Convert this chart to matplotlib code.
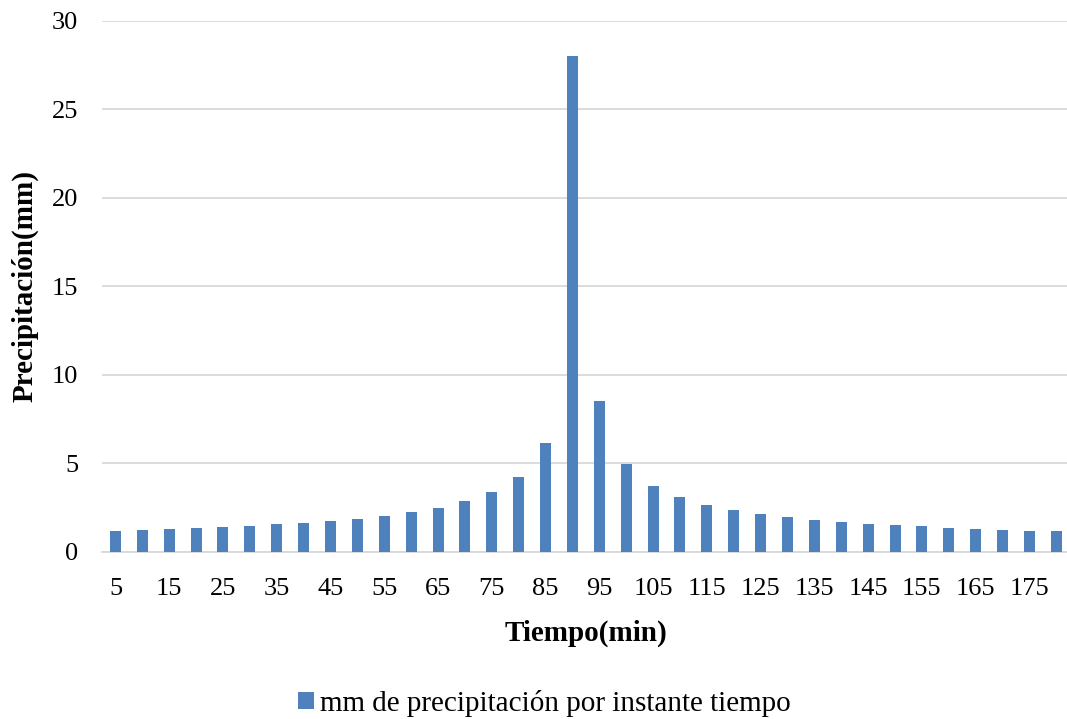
import numpy as np
import matplotlib.pyplot as plt

plt.rcParams.update({
    "font.family": ["Liberation Serif", "DejaVu Serif"],
    "font.size": 19,
})

# minutes (5 .. 180) and precipitation per time step (mm)
tiempo = list(range(5, 185, 5))
precipitacion = [
    1.18, 1.23, 1.29, 1.35, 1.40, 1.48, 1.57, 1.65, 1.76, 1.89,
    2.05, 2.25, 2.50, 2.86, 3.39, 4.24, 6.14, 28.05, 8.54, 4.98,
    3.73, 3.09, 2.67, 2.37, 2.14, 1.97, 1.82, 1.70, 1.59, 1.51,
    1.44, 1.36, 1.31, 1.25, 1.21, 1.17,
]
serie = "mm de precipitación por instante tiempo"

fig = plt.figure(figsize=(10.67, 7.19), dpi=100)
ax = fig.add_axes([0.0956, 0.2323, 0.907, 0.7385])

pos = np.arange(len(tiempo))
ax.bar(pos, precipitacion, width=0.41, color="#4f81bd", label=serie, zorder=3)

ax.set_xlim(-0.5, len(tiempo) - 0.5)
ax.set_ylim(0, 30)
ax.set_yticks(range(0, 31, 5))
ax.set_xticks(pos[::2])
ax.set_xticklabels([str(t) for t in tiempo[::2]])
ax.tick_params(axis="both", length=0, labelsize=19)
ax.tick_params(axis="x", pad=19)
ax.tick_params(axis="y", pad=17)

ax.grid(axis="y", color="#d9d9d9", lw=1.3, zorder=0)
for s in ["top", "right", "left"]:
    ax.spines[s].set_visible(False)
ax.spines["bottom"].set_color("#d9d9d9")
ax.spines["bottom"].set_linewidth(1.3)

ax.set_xlabel("Tiempo(min)", fontweight="bold", fontsize=21, labelpad=14)
ax.set_ylabel("Precipitación(mm)", fontweight="bold", fontsize=21)
ax.yaxis.set_label_coords(-0.066, 0.5)

fig.legend(loc="center", bbox_to_anchor=(0.51, 0.022), frameon=False,
           fontsize=21, handlelength=0.55, handleheight=0.55, handletextpad=0.2)

fig.savefig("out.png", dpi=100)
